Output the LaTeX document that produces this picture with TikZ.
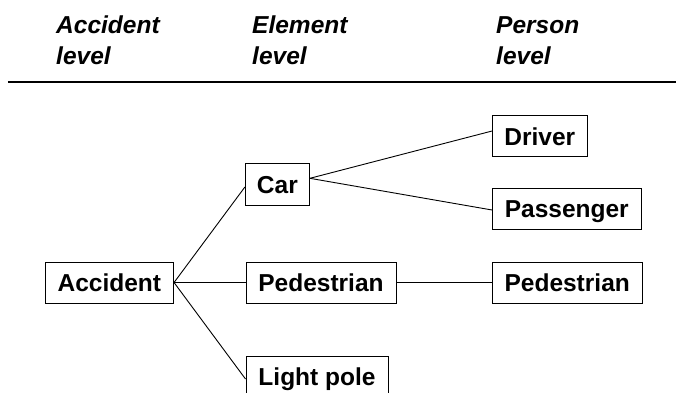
\documentclass[tikz,border=0pt]{standalone}
\usepackage{fontspec}
\setmainfont{Liberation Sans}
\begin{document}
\begin{tikzpicture}[x=1pt,y=-1pt,
  every node/.style={font=\fontsize{24.5}{30.7}\selectfont\bfseries},
  levelhead/.style={font=\fontsize{24.5}{30.7}\selectfont\bfseries\itshape,
    anchor=base west, inner sep=0pt, align=left},
  item/.style={draw=black, line width=1pt, inner sep=0pt,
    minimum height=41pt, text height=17.5pt, text depth=0pt},
  link/.style={line width=0.9pt, black}
]
\useasboundingbox (0,0) rectangle (676,392);

% column headings (anchored on the baseline of their last line) and rule
\node[levelhead] (hacc) at (56,64) {Accident\\level};
\node[levelhead] (helem) at (252,64) {Element\\level};
\node[levelhead] (hpers) at (496,64) {Person\\level};
\coordinate (ruleL) at (7.8,82);
\coordinate (ruleR) at (676,82);
\draw[line width=1.2pt] (ruleL) -- (ruleR);

% accident level
\node[item, minimum width=128.5pt] (acc) at (109.3,282.5) {Accident};

% element level
\node[item, minimum width=64pt, minimum height=42pt] (car) at (277.4,184.5) {Car};
\node[item, minimum width=150pt] (pedel) at (321,282.5) {Pedestrian};
\node[item, minimum width=142pt] (pole) at (317,376.5) {Light pole};

% person level
\node[item, minimum width=94.5pt] (drv) at (539.8,136.4) {Driver};
\node[item, minimum width=148.5pt] (pas) at (566.8,209.2) {Passenger};
\node[item, minimum width=149.7pt] (pedps) at (567.2,282.5) {Pedestrian};

% connectors
\draw[link] (acc.east) -- ([yshift=-2.5pt]car.west);
\draw[link] (acc.east) -- (pedel.west);
\draw[link] (acc.east) -- ([yshift=-2.5pt]pole.west);
\draw[link] ([yshift=6.2pt]car.east) -- ([yshift=5.4pt]drv.west);
\draw[link] ([yshift=6.2pt]car.east) -- ([yshift=-0.8pt]pas.west);
\draw[link] (pedel.east) -- (pedps.west);
\end{tikzpicture}
\end{document}
